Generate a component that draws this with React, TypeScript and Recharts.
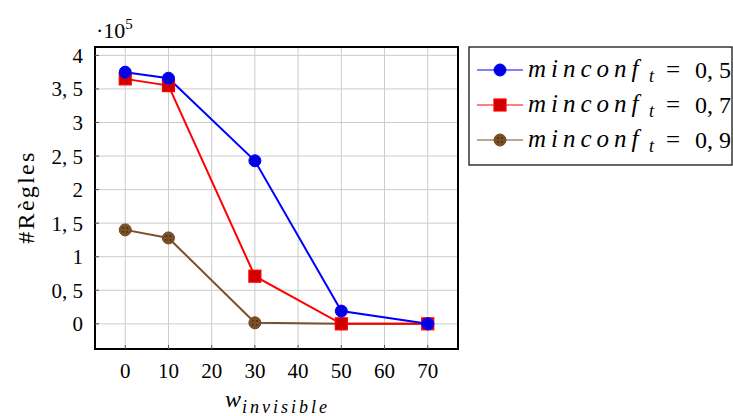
import React from "react";
import { LineChart, Line, XAxis, YAxis, CartesianGrid, ReferenceArea } from "recharts";

const wValues = [0, 10, 30, 50, 70];
const conf05 = [3.75, 3.66, 2.43, 0.19, 0];
const conf07 = [3.65, 3.55, 0.71, 0, 0];
const conf09 = [1.4, 1.28, 0.015, 0, 0];
const xTicks = [0, 10, 20, 30, 40, 50, 60, 70];
const yTicks = [0, 0.5, 1, 1.5, 2, 2.5, 3, 3.5, 4];
const seriesLabels = ["0, 5", "0, 7", "0, 9"];

const data = wValues.map((w, i) => ({ w, a: conf05[i], b: conf07[i], c: conf09[i] }));

const BLUE = "#0000ff";
const RED = "#ff0000";
const BROWN = "#7a5028";
const FONT = "'Liberation Serif', 'DejaVu Serif', serif";

const fmtY = (v: number) => (Number.isInteger(v) ? String(v) : String(v).replace(".", ", "));

const CircleDot = (props: any) => {
  const { cx, cy } = props;
  if (cx == null || cy == null) return null;
  return <circle cx={cx} cy={cy} r={6} fill="#0000e0" stroke={BLUE} strokeWidth={1} />;
};
const SquareDot = (props: any) => {
  const { cx, cy } = props;
  if (cx == null || cy == null) return null;
  return <rect x={cx - 6} y={cy - 6} width={12} height={12} fill="#d00000" stroke={RED} strokeWidth={1.2} />;
};
const BrownDot = (props: any) => {
  const { cx, cy } = props;
  if (cx == null || cy == null) return null;
  return (
    <g>
      <circle cx={cx} cy={cy} r={6} fill={BROWN} stroke="#6a4520" strokeWidth={1} />
      <circle cx={cx - 2} cy={cy - 2} r={0.9} fill="#4a2e10" />
      <circle cx={cx + 2} cy={cy - 2} r={0.9} fill="#4a2e10" />
      <circle cx={cx - 2} cy={cy + 2} r={0.9} fill="#4a2e10" />
      <circle cx={cx + 2} cy={cy + 2} r={0.9} fill="#4a2e10" />
    </g>
  );
};

const legendItems = [
  { color: BLUE, kind: "circle" },
  { color: RED, kind: "square" },
  { color: BROWN, kind: "brown" },
];

export default function App() {
  return (
    <div style={{ position: "absolute", left: 0, top: 0, width: 733, height: 416, background: "#fff" }}>
      <LineChart
        width={733}
        height={416}
        data={data}
        margin={{ top: 47, right: 275, bottom: 37, left: 35 }}
      >
        <CartesianGrid stroke="#cccccc" strokeWidth={1} />
        <XAxis
          dataKey="w"
          type="number"
          domain={[-7, 77]}
          ticks={xTicks}
          interval={0}
          height={30}
          axisLine={{ stroke: "#000", strokeWidth: 2 }}
          tickLine={{ stroke: "#555" }}
          tickSize={-4}
          tickMargin={18}
          tick={{ fill: "#000", fontSize: 21, fontFamily: FONT }}
          allowDataOverflow
        />
        <YAxis
          type="number"
          domain={[-0.375, 4.125]}
          ticks={yTicks}
          interval={0}
          width={60}
          tickFormatter={fmtY}
          axisLine={{ stroke: "#000", strokeWidth: 2 }}
          tickLine={{ stroke: "#555" }}
          tickSize={-4}
          tickMargin={16}
          tick={{ fill: "#000", fontSize: 21, fontFamily: FONT }}
          allowDataOverflow
        />
        <ReferenceArea
          x1={-7}
          x2={77}
          y1={-0.375}
          y2={4.125}
          fill="none"
          fillOpacity={0}
          stroke="#000"
          strokeWidth={2}
          strokeOpacity={1}
          ifOverflow="visible"
        />
        <Line dataKey="c" stroke={BROWN} strokeWidth={2} dot={<BrownDot />} isAnimationActive={false} activeDot={false} />
        <Line dataKey="b" stroke={RED} strokeWidth={2} dot={<SquareDot />} isAnimationActive={false} activeDot={false} />
        <Line dataKey="a" stroke={BLUE} strokeWidth={2} dot={<CircleDot />} isAnimationActive={false} activeDot={false} />
        <text x={96} y={38} fontSize={22} fontFamily={FONT} fill="#000">
          ·10<tspan fontSize={15} dy={-9}>5</tspan>
        </text>
        <text
          x={0}
          y={0}
          fontSize={24}
          fontFamily={FONT}
          fill="#000"
          textAnchor="middle"
          letterSpacing={2.3}
          transform="translate(34 197) rotate(-90)"
        >
          #Règles
        </text>
        <text x={225} y={407} fontSize={24} fontFamily={FONT} fontStyle="italic" fill="#000">
          w
        </text>
        <text x={242} y={413} fontSize={18} fontFamily={FONT} fontStyle="italic" fill="#000" letterSpacing={3}>
          invisible
        </text>
        <g>
          <rect x={469} y={47} width={263} height={118} fill="#fff" stroke="#000" strokeWidth={1.2} />
          {legendItems.map((it, i) => {
            const y = 70 + i * 35;
            return (
              <g key={i}>
                <line x1={477} x2={523} y1={y} y2={y} stroke={it.color} strokeWidth={1.2} />
                {it.kind === "circle" && <CircleDot cx={500} cy={y} />}
                {it.kind === "square" && <SquareDot cx={500} cy={y} />}
                {it.kind === "brown" && <BrownDot cx={500} cy={y} />}
                <text x={528} y={y + 7} fontSize={25} fontFamily={FONT} fontStyle="italic" fill="#000" letterSpacing={5}>
                  minconf
                </text>
                <text x={649} y={y + 12} fontSize={18} fontFamily={FONT} fontStyle="italic" fill="#000">
                  t
                </text>
                <text x={666} y={y + 8} fontSize={25} fontFamily={FONT} fill="#000">
                  =
                </text>
                <text x={695} y={y + 8} fontSize={24} fontFamily={FONT} fill="#000">
                  {seriesLabels[i]}
                </text>
              </g>
            );
          })}
        </g>
      </LineChart>
    </div>
  );
}
